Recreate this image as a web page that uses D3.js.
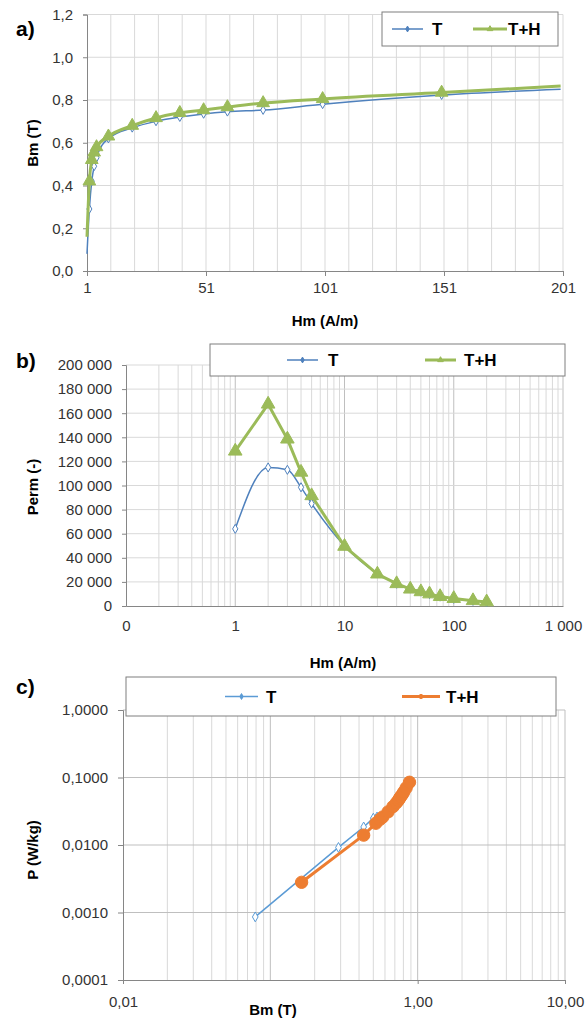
<!DOCTYPE html>
<html>
<head>
<meta charset="utf-8">
<script src="https://cdn.jsdelivr.net/npm/d3@7"></script>
<style>
  body { margin: 0; background: #fff; }
  svg text { font-family: "Liberation Sans", Arial, sans-serif; }
</style>
</head>
<body>
<svg id="chart" width="586" height="1018"></svg>
<script>
// ---- data ----
var hm = [1, 2, 3, 4, 5, 10, 20, 30, 40, 50, 60, 75, 100, 150, 200];

// a) magnetisation curve
var bmT  = [0.08, 0.29, 0.42, 0.49, 0.53, 0.62, 0.67, 0.70, 0.72, 0.735, 0.745, 0.753, 0.78, 0.823, 0.85];
var bmTH = [0.16, 0.42, 0.52, 0.555, 0.58, 0.63, 0.68, 0.716, 0.74, 0.753, 0.767, 0.786, 0.805, 0.835, 0.865];

// b) permeability
var permT  = [64000, 115000, 113000, 98500, 85000, 50000, 27000, 18500, 14500, 12000, 10000, 7800, 6000, 4300, 3300];
var permTH = [128500, 167500, 138500, 111000, 91500, 49500, 26500, 18500, 14000, 11800, 10000, 7800, 6200, 4400, 3400];

// c) losses
var lossBmT = [0.079, 0.29, 0.43, 0.50, 0.53, 0.62, 0.67, 0.70, 0.72, 0.735, 0.745, 0.753, 0.78, 0.823, 0.85];
var lossPT  = [0.00086, 0.0092, 0.0185, 0.025, 0.026, 0.031, 0.036, 0.041, 0.046, 0.049, 0.052, 0.055, 0.059, 0.068, 0.077];
var lossBmTH = [0.163, 0.43, 0.52, 0.555, 0.58, 0.63, 0.68, 0.716, 0.74, 0.753, 0.767, 0.786, 0.805, 0.835, 0.88];
var lossPTH  = [0.0028, 0.014, 0.021, 0.024, 0.026, 0.031, 0.037, 0.042, 0.046, 0.049, 0.052, 0.056, 0.061, 0.070, 0.085];

var ticksA_x = [1, 51, 101, 151, 201];
var ticksA_y = [0, 0.2, 0.4, 0.6, 0.8, 1.0, 1.2];
var ticksB_x = [0.1, 1, 10, 100, 1000];
var ticksB_y = [0, 20000, 40000, 60000, 80000, 100000, 120000, 140000, 160000, 180000, 200000];
var ticksC_x = [0.01, 1, 10];
var ticksC_y = [0.0001, 0.001, 0.01, 0.1, 1];

var blue = "#4f81bd", green = "#9bbb59", blue2 = "#5b9bd5", orange = "#ed7d31";
var gridMinor = "#d9d9d9", gridMajor = "#bfbfbf", axisCol = "#868686", tickCol = "#333";

var svg = d3.select("#chart");

function comma(s) { return s.replace(".", ","); }
function spaced(v) { return d3.format(",")(v).replace(/,/g, " "); }

function logMinor(lo, hi) {
    var out = [];
    for (var d = lo; d < hi; d *= 10)
        for (var k = 2; k <= 9; k++) out.push(d * k);
    return out;
}

function hGrid(g, y, vals, x0, x1, col) {
    g.selectAll(null).data(vals).enter().append("line")
        .attr("x1", x0).attr("x2", x1)
        .attr("y1", function (d) { return y(d); }).attr("y2", function (d) { return y(d); })
        .attr("stroke", col).attr("stroke-width", 1);
}
function vGrid(g, x, vals, y0, y1, col) {
    g.selectAll(null).data(vals).enter().append("line")
        .attr("y1", y0).attr("y2", y1)
        .attr("x1", function (d) { return x(d); }).attr("x2", function (d) { return x(d); })
        .attr("stroke", col).attr("stroke-width", 1);
}

function styleAxis(sel, size) {
    sel.select(".domain").attr("stroke", axisCol);
    sel.selectAll(".tick line").attr("stroke", axisCol);
    sel.selectAll(".tick text").attr("fill", tickCol).style("font-size", size + "px")
        .style("font-family", "'Liberation Sans', Arial, sans-serif");
}

function titleX(txt, cx, cy, size) {
    svg.append("text").attr("x", cx).attr("y", cy).attr("text-anchor", "middle")
        .style("font-size", size + "px").style("font-weight", "bold").attr("fill", "#000").text(txt);
}
function titleY(txt, cx, cy, size) {
    svg.append("text").attr("transform", "translate(" + cx + "," + cy + ") rotate(-90)")
        .attr("text-anchor", "middle")
        .style("font-size", size + "px").style("font-weight", "bold").attr("fill", "#000").text(txt);
}
function panelLetter(txt, x, y) {
    svg.append("text").attr("x", x).attr("y", y).style("font-size", "21px")
        .style("font-weight", "bold").attr("fill", "#000").text(txt);
}

function series(g, xs, ys, x, y, opt) {
    var pts = xs.map(function (v, i) { return [v, ys[i]]; });
    var line = d3.line().x(function (d) { return x(d[0]); }).y(function (d) { return y(d[1]); })
        .curve(opt.smooth ? d3.curveMonotoneX : d3.curveLinear);
    g.append("path").datum(pts).attr("d", line).attr("fill", "none")
        .attr("stroke", opt.color).attr("stroke-width", opt.width).attr("stroke-linejoin", "round");
    // markers on the axis edges are hidden in the original
    var marks = opt.skipEnds ? pts.slice(1, -1) : pts;
    var sym = d3.symbol().type(opt.symbol).size(opt.size);
    g.selectAll(null).data(marks).enter().append("path")
        .attr("d", sym)
        .attr("transform", function (d) { return "translate(" + x(d[0]) + "," + y(d[1]) + ")"; })
        .attr("fill", opt.fill).attr("stroke", opt.color).attr("stroke-width", opt.strokeW || 1);
}

function legend(x0, y0, x1, y1, items, size) {
    svg.append("rect").attr("x", x0).attr("y", y0).attr("width", x1 - x0).attr("height", y1 - y0)
        .attr("fill", "#fff").attr("stroke", "#7f7f7f").attr("stroke-width", 1);
    var cy = (y0 + y1) / 2;
    items.forEach(function (it) {
        svg.append("line").attr("x1", it.lx0).attr("x2", it.lx1).attr("y1", cy).attr("y2", cy)
            .attr("stroke", it.color).attr("stroke-width", it.width);
        svg.append("path").attr("d", d3.symbol().type(it.symbol).size(it.msize))
            .attr("transform", "translate(" + ((it.lx0 + it.lx1) / 2) + "," + cy + ")")
            .attr("fill", it.fill).attr("stroke", it.color);
        svg.append("text").attr("x", it.tx).attr("y", cy + size * 0.36)
            .style("font-size", size + "px").style("font-weight", "bold").attr("fill", "#000").text(it.label);
    });
}

// ================= a) =================
(function () {
    var L = 87, R = 563, T = 14.5, B = 271;
    var x = d3.scaleLinear().domain([1, 201]).range([L, R]);
    var y = d3.scaleLinear().domain([0, 1.2]).range([B, T]);
    var g = svg.append("g");
    hGrid(g, y, ticksA_y.slice(1), L, R, gridMinor);
    vGrid(g, x, d3.range(11, 202, 10), T, B, gridMinor);

    var ax = g.append("g").attr("transform", "translate(0," + B + ")")
        .call(d3.axisBottom(x).tickValues(ticksA_x).tickSize(5).tickPadding(6).tickFormat(d3.format("d")));
    styleAxis(ax, 15);
    var ay = g.append("g").attr("transform", "translate(" + L + ",0)")
        .call(d3.axisLeft(y).tickValues(ticksA_y).tickSize(4).tickPadding(10)
            .tickFormat(function (d) { return comma(d3.format(".1f")(d)); }));
    styleAxis(ay, 15);

    series(g, hm, bmT, x, y, { color: blue, width: 1.5, smooth: true, skipEnds: true, symbol: d3.symbolDiamond, size: 22, fill: "#fff" });
    series(g, hm, bmTH, x, y, { color: green, width: 3, smooth: true, skipEnds: true, symbol: d3.symbolTriangle, size: 70, fill: green });

    titleY("Bm (T)", 38, 143, 15);
    titleX("Hm (A/m)", 325, 326, 15);
    panelLetter("a)", 16, 36);
    legend(382, 12, 558, 46, [
        { lx0: 392, lx1: 423, tx: 432, color: blue, width: 1.5, symbol: d3.symbolDiamond, msize: 10, fill: blue, label: "T" },
        { lx0: 473, lx1: 507, tx: 508, color: green, width: 3, symbol: d3.symbolTriangle, msize: 14, fill: green, label: "T+H" }
    ], 17);
})();

// ================= b) =================
(function () {
    var L = 126, R = 563, T = 365, B = 606;
    var x = d3.scaleLog().domain([0.1, 1000]).range([L, R]);
    var y = d3.scaleLinear().domain([0, 200000]).range([B, T]);
    var g = svg.append("g");
    vGrid(g, x, logMinor(0.1, 1000), T, B, gridMinor);
    vGrid(g, x, [1, 10, 100, 1000], T, B, gridMajor);
    hGrid(g, y, ticksB_y.slice(1), L, R, gridMinor);

    var ax = g.append("g").attr("transform", "translate(0," + B + ")")
        .call(d3.axisBottom(x).tickValues(ticksB_x).tickSize(0).tickPadding(14)
            .tickFormat(function (d) { return d < 1 ? "0" : spaced(d); }));
    styleAxis(ax, 15);
    var ay = g.append("g").attr("transform", "translate(" + L + ",0)")
        .call(d3.axisLeft(y).tickValues(ticksB_y).tickSize(4).tickPadding(10).tickFormat(spaced));
    styleAxis(ay, 15);

    series(g, hm, permT, x, y, { color: blue, width: 1.5, smooth: true, symbol: d3.symbolDiamond, size: 24, fill: "#fff" });
    series(g, hm, permTH, x, y, { color: green, width: 3, smooth: false, symbol: d3.symbolTriangle, size: 80, fill: green });

    titleY("Perm (-)", 38, 487, 15);
    titleX("Hm (A/m)", 343, 668, 15);
    panelLetter("b)", 16, 368);
    legend(210, 344, 565, 376, [
        { lx0: 287, lx1: 318, tx: 328, color: blue, width: 1.5, symbol: d3.symbolDiamond, msize: 10, fill: blue, label: "T" },
        { lx0: 425, lx1: 456, tx: 464, color: green, width: 3, symbol: d3.symbolTriangle, msize: 14, fill: green, label: "T+H" }
    ], 17);
})();

// ================= c) =================
(function () {
    var L = 123, R = 565, T = 710, B = 980;
    var x = d3.scaleLog().domain([0.01, 10]).range([L, R]);
    var y = d3.scaleLog().domain([0.0001, 1]).range([B, T]);
    var g = svg.append("g");
    vGrid(g, x, logMinor(0.01, 10), T, B, gridMinor);
    vGrid(g, x, [0.1, 1, 10], T, B, gridMajor);
    hGrid(g, y, [0.001, 0.01, 0.1, 1], L, R, gridMajor);

    var ax = g.append("g").attr("transform", "translate(0," + B + ")")
        .call(d3.axisBottom(x).tickValues(ticksC_x).tickSize(4).tickPadding(12)
            .tickFormat(function (d) { return comma(d3.format(".2f")(d)); }));
    styleAxis(ax, 15);
    var ay = g.append("g").attr("transform", "translate(" + L + ",0)")
        .call(d3.axisLeft(y).tickValues(ticksC_y).tickSize(5).tickPadding(10)
            .tickFormat(function (d) { return comma(d3.format(".4f")(d)); }));
    styleAxis(ay, 15);

    series(g, lossBmT, lossPT, x, y, { color: blue2, width: 1.5, smooth: false, symbol: d3.symbolDiamond, size: 28, fill: "#fff" });
    series(g, lossBmTH, lossPTH, x, y, { color: orange, width: 3, smooth: false, symbol: d3.symbolCircle, size: 120, fill: orange });

    titleY("P (W/kg)", 38, 850, 15);
    titleX("Bm (T)", 273, 1015, 15);
    panelLetter("c)", 16, 694);
    legend(126, 677, 556, 716, [
        { lx0: 225, lx1: 258, tx: 266, color: blue2, width: 1.5, symbol: d3.symbolDiamond, msize: 10, fill: blue2, label: "T" },
        { lx0: 402, lx1: 440, tx: 446, color: orange, width: 3, symbol: d3.symbolCircle, msize: 14, fill: orange, label: "T+H" }
    ], 17);
})();
</script>
</body>
</html>
